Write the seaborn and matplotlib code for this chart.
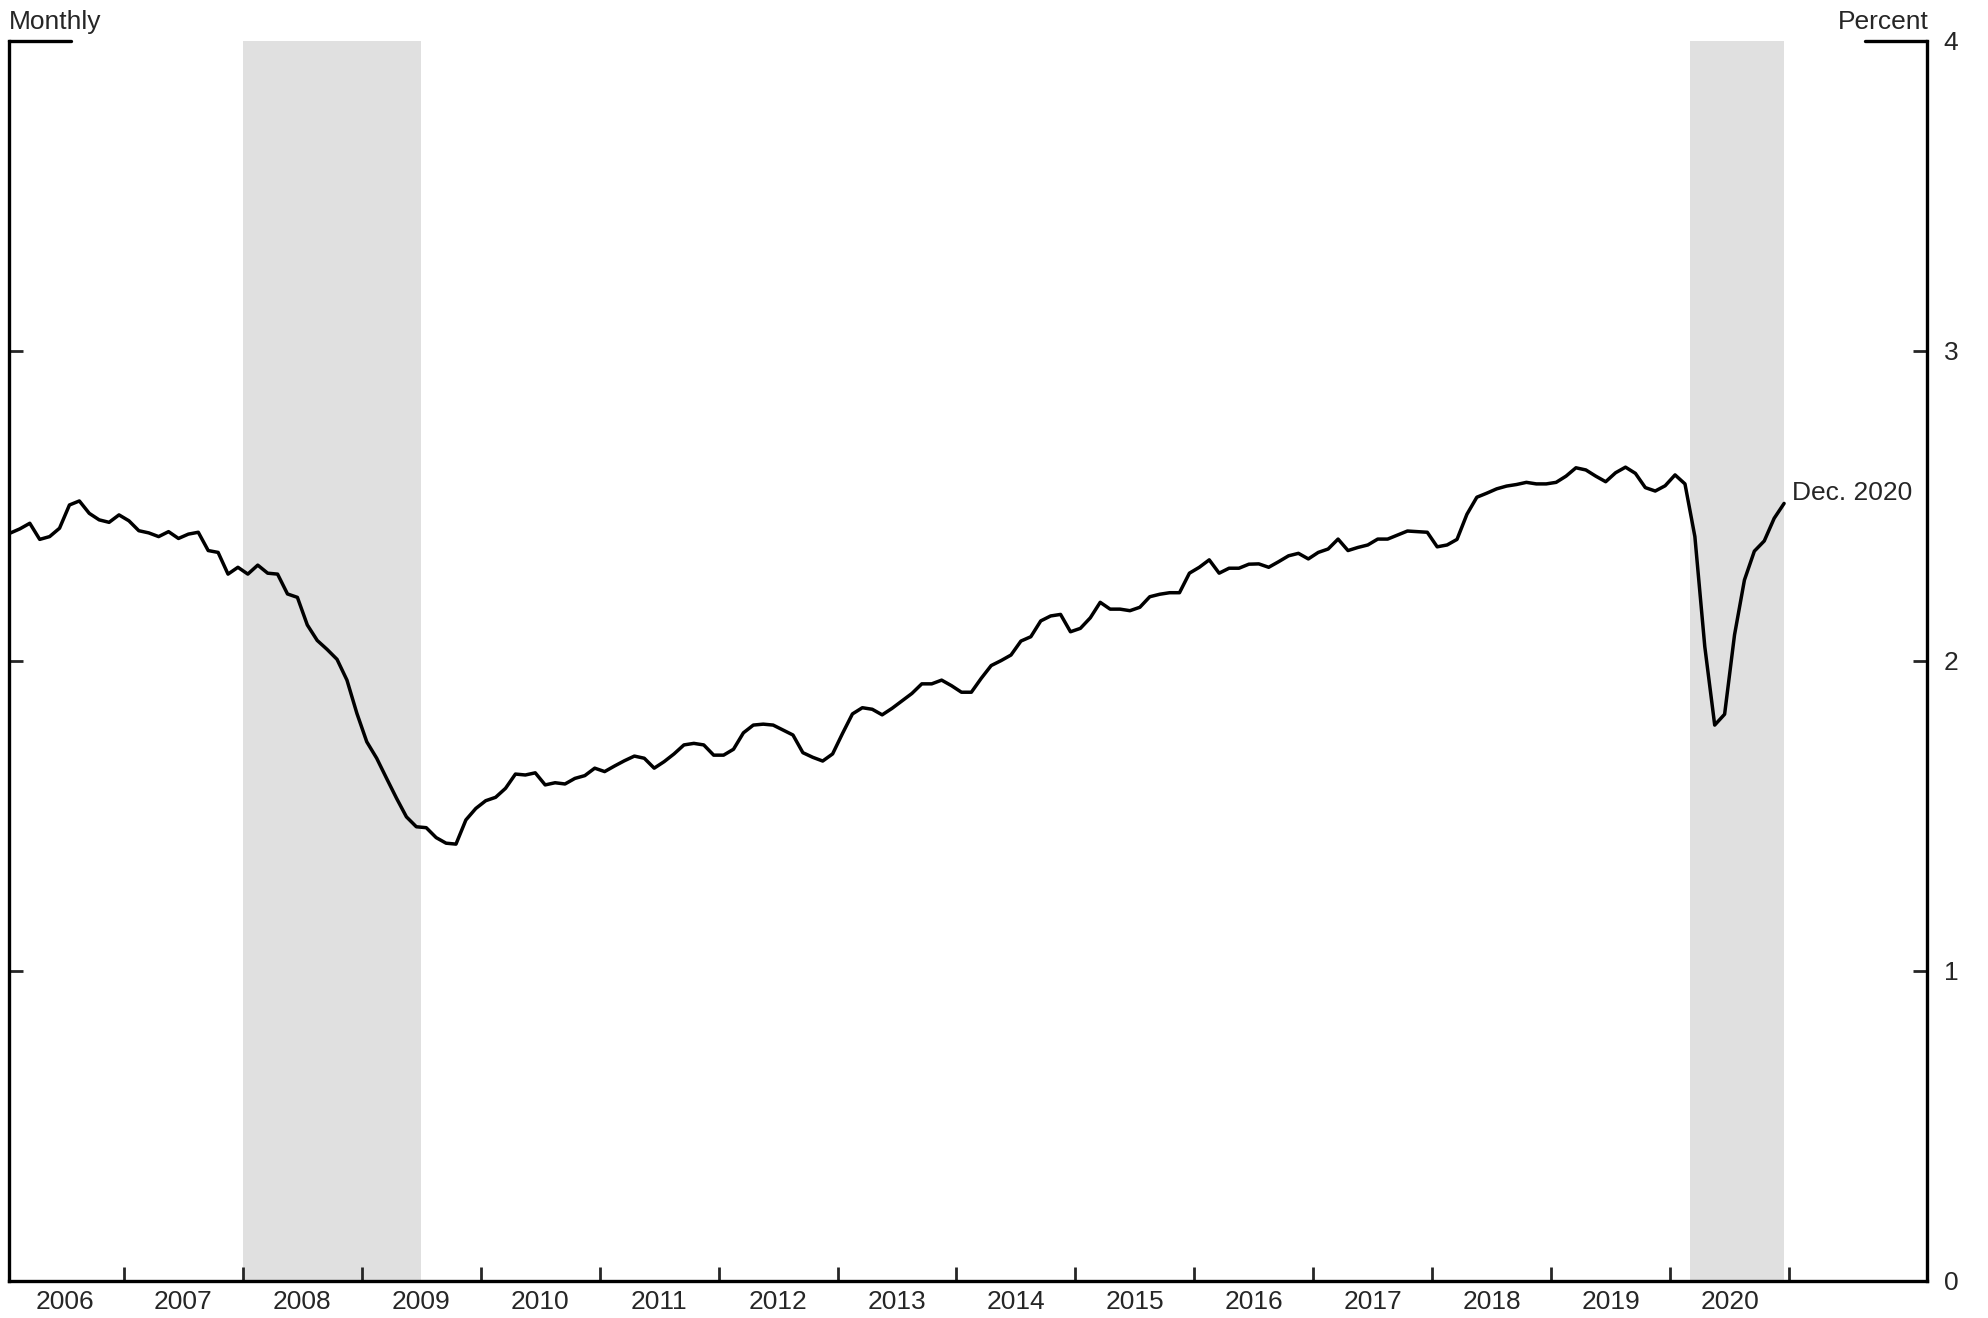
import pandas as pd
import seaborn as sns
import matplotlib.pyplot as plt


# monthly values, percent
rate_2006 = [2.411, 2.425, 2.443, 2.391, 2.400, 2.427, 2.502, 2.515, 2.475, 2.454, 2.446, 2.470]
rate_2007 = [2.451, 2.419, 2.412, 2.400, 2.416, 2.394, 2.408, 2.414, 2.355, 2.349, 2.279, 2.301]
rate_2008 = [2.279, 2.308, 2.282, 2.279, 2.215, 2.204, 2.115, 2.065, 2.036, 2.004, 1.937, 1.830]
rate_2009 = [1.738, 1.685, 1.620, 1.556, 1.496, 1.464, 1.461, 1.429, 1.411, 1.408, 1.486, 1.523]
rate_2010 = [1.548, 1.559, 1.588, 1.634, 1.631, 1.638, 1.599, 1.606, 1.602, 1.620, 1.629, 1.653]
rate_2011 = [1.642, 1.660, 1.677, 1.692, 1.685, 1.653, 1.674, 1.699, 1.728, 1.733, 1.728, 1.695]
rate_2012 = [1.695, 1.714, 1.767, 1.792, 1.795, 1.792, 1.776, 1.760, 1.703, 1.688, 1.676, 1.699]
rate_2013 = [1.765, 1.828, 1.848, 1.843, 1.825, 1.846, 1.870, 1.894, 1.925, 1.925, 1.937, 1.919]
rate_2014 = [1.898, 1.898, 1.943, 1.984, 2.000, 2.018, 2.063, 2.077, 2.128, 2.144, 2.149, 2.093]
rate_2015 = [2.104, 2.138, 2.188, 2.166, 2.166, 2.161, 2.172, 2.206, 2.214, 2.219, 2.219, 2.282]
rate_2016 = [2.301, 2.325, 2.282, 2.298, 2.298, 2.311, 2.312, 2.301, 2.319, 2.338, 2.346, 2.328]
rate_2017 = [2.349, 2.360, 2.392, 2.355, 2.365, 2.373, 2.392, 2.392, 2.405, 2.418, 2.416, 2.414]
rate_2018 = [2.367, 2.373, 2.391, 2.472, 2.527, 2.540, 2.554, 2.563, 2.568, 2.575, 2.570, 2.570]
rate_2019 = [2.575, 2.595, 2.622, 2.615, 2.595, 2.577, 2.606, 2.624, 2.604, 2.558, 2.547, 2.564]
rate_2020 = [2.599, 2.570, 2.400, 2.045, 1.792, 1.827, 2.083, 2.260, 2.353, 2.386, 2.459, 2.507]

years = list(range(2006, 2021))
year_labels = [str(y) for y in years]
yticks = [0, 1, 2, 3, 4]

# recession shading (decimal years)
rec_start = [2008.0, 2020 + 2 / 12]
rec_end = [2009.5, 2020 + 11.5 / 12]

yearly = [rate_2006, rate_2007, rate_2008, rate_2009, rate_2010, rate_2011, rate_2012,
          rate_2013, rate_2014, rate_2015, rate_2016, rate_2017, rate_2018, rate_2019,
          rate_2020]
rows = []
for y, vals in zip(years, yearly):
    for m, v in enumerate(vals):
        rows.append({'date': y + (m + 0.5) / 12, 'rate': v})
df = pd.DataFrame(rows)


sns.set_style('ticks')
plt.rcParams['font.family'] = ['Liberation Sans', 'DejaVu Sans']

fig = plt.figure(figsize=(19.88, 13.18), dpi=100)
ax = fig.add_axes([9.3 / 1988, 1 - 1280.6 / 1318, (1927 - 9.3) / 1988, (1280.6 - 40.6) / 1318])

for s, e in zip(rec_start, rec_end):
    ax.axvspan(s, e, color='#e0e0e0', lw=0, zorder=0)

sns.lineplot(data=df, x='date', y='rate', color='black', linewidth=2.5, ax=ax, zorder=3)

ax.set_xlim(2006.036, 2022.16)
ax.set_ylim(0, 4)
ax.set_xlabel('')
ax.set_ylabel('')

ax.spines['top'].set_visible(False)
for side in ['left', 'right', 'bottom']:
    ax.spines[side].set_visible(True)
    ax.spines[side].set_linewidth(2.4)
    ax.spines[side].set_color('black')

# year boundaries as ticks, labels in the middle of each year
ax.set_xticks(list(range(2007, 2022)))
ax.set_xticklabels([])
ax.set_xticks([y + 0.5 for y in years], minor=True)
ax.set_xticklabels(year_labels, minor=True)
ax.tick_params(axis='x', which='major', direction='in', length=10, width=2, bottom=True)
ax.tick_params(axis='x', which='minor', length=0, pad=7, labelsize=19)

ax.set_yticks(yticks)
ax.set_yticklabels([str(t) for t in yticks])
ax.tick_params(axis='y', which='major', left=True, right=True, labelleft=False,
               labelright=True, direction='in', length=10, width=2, pad=12, labelsize=19)

# short marker lines at the top corners
w = 62 / (1927 - 9.3)
ax.plot([0, w], [1, 1], transform=ax.transAxes, color='black', lw=2.4, clip_on=False)
ax.plot([1 - w, 1], [1, 1], transform=ax.transAxes, color='black', lw=2.4, clip_on=False)

fig.text(8.5 / 1988, 1 - 29.3 / 1318, 'Monthly', ha='left', va='baseline', fontsize=19)
fig.text(1929 / 1988, 1 - 29.3 / 1318, 'Percent', ha='right', va='baseline', fontsize=19)

last = df.iloc[-1]
ax.annotate('Dec. 2020', xy=(last['date'], last['rate']), xytext=(6, 2.5),
            textcoords='offset points', ha='left', va='baseline', fontsize=19)

plt.savefig('out.png', dpi=100)
